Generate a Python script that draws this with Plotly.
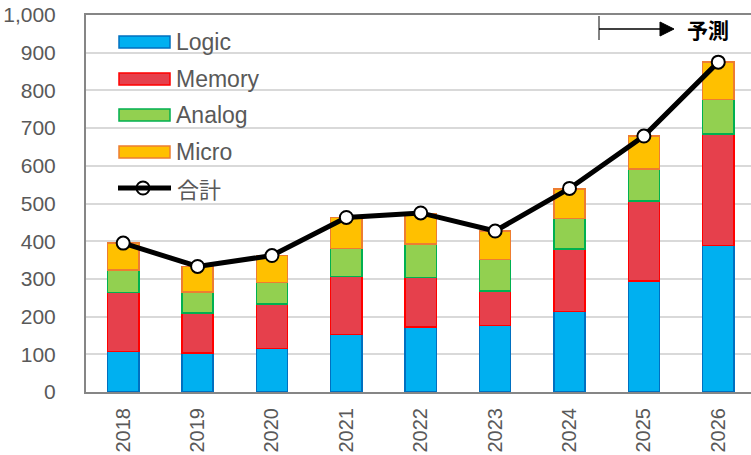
import plotly.graph_objects as go

years = ["2018", "2019", "2020", "2021", "2022", "2023", "2024", "2025", "2026"]
logic = [107, 103, 116, 153, 173, 177, 213, 294, 389]
memory = [157, 107, 117, 153, 131, 91, 166, 213, 296]
analog = [60, 55, 57, 74, 89, 84, 81, 85, 91]
micro = [71, 68, 72, 83, 81, 75, 78, 87, 99]
total = [395, 333, 362, 463, 475, 427, 540, 679, 875]

series_names = ["Logic", "Memory", "Analog", "Micro"]
fills = ["#00B0F0", "#E6404C", "#92D050", "#FFC000"]
edges = ["#0070C0", "#FF0000", "#00B050", "#ED7D31"]
y_ticks = [0, 100, 200, 300, 400, 500, 600, 700, 800, 900, 1000]
forecast_label = "予測"
total_label = "合計"

W, H = 751, 455
L, R, T, B = 86, 0, 15, 63
PW, PH = W - L - R, H - T - B

def px(x):
    return (x - L) / PW

def py(y):
    return (H - B - y) / PH

fig = go.Figure()
for name, vals, fc, ec in zip(series_names, [logic, memory, analog, micro], fills, edges):
    fig.add_trace(go.Bar(x=years, y=vals, name=name, marker=dict(color=fc, line=dict(color=ec, width=1.5)),
                         width=0.42, showlegend=False))
fig.add_trace(go.Scatter(x=years, y=total, name=total_label, mode="lines+markers",
                         line=dict(color="black", width=5),
                         marker=dict(size=13, color="white", line=dict(color="black", width=2)),
                         showlegend=False))

font = "Liberation Sans, Arial, sans-serif"
cjk = "Noto Sans CJK JP, sans-serif"
fig.update_layout(
    width=W, height=H, barmode="stack",
    margin=dict(l=L, r=R, t=T, b=B, autoexpand=False),
    plot_bgcolor="white", paper_bgcolor="white",
    font=dict(family=font, color="#595959"),
)
fig.update_xaxes(type="category", range=[-0.5, 8.44], showline=True, linecolor="#868686", linewidth=2,
                 mirror=True, tickangle=-90, tickfont=dict(size=20, color="#595959"),
                 ticks="", ticklabelstandoff=6, showgrid=False, automargin=False)
fig.update_yaxes(range=[0, 1000], tickvals=y_ticks, tickformat=",", showline=True, linecolor="#868686",
                 linewidth=2, gridcolor="#D9D9D9", gridwidth=2, tickfont=dict(size=21, color="#595959"),
                 ticks="", ticklabelstandoff=24, zeroline=False, automargin=False)

# custom legend
rows = [42, 79, 115, 152]
for name, fc, ec, yc in zip(series_names, fills, edges, rows):
    fig.add_shape(type="rect", xref="paper", yref="paper", x0=px(119), x1=px(170), y0=py(yc - 6), y1=py(yc + 6),
                  fillcolor=fc, line=dict(color=ec, width=1.5))
    fig.add_annotation(xref="paper", yref="paper", x=px(174), y=py(yc), text=name, showarrow=False,
                       xanchor="left", yanchor="middle", font=dict(size=23, color="#595959", family=font))
fig.add_shape(type="line", xref="paper", yref="paper", x0=px(118), x1=px(171), y0=py(188), y1=py(188),
              line=dict(color="black", width=5))
fig.add_trace(go.Scatter(x=[px(143)], y=[py(188)], xaxis="x2", yaxis="y2", mode="markers",
                         marker=dict(size=13, color="white", line=dict(color="black", width=2)),
                         showlegend=False, hoverinfo="skip"))
fig.update_layout(xaxis2=dict(overlaying="x", range=[0, 1], visible=False, anchor="y2"),
                  yaxis2=dict(overlaying="y", range=[0, 1], visible=False, anchor="x2"))
fig.add_annotation(xref="paper", yref="paper", x=px(175), y=py(188), text=total_label, showarrow=False,
                   xanchor="left", yanchor="middle", font=dict(size=22, color="#595959", family=cjk))

# forecast arrow
fig.add_shape(type="line", xref="paper", yref="paper", x0=px(599), x1=px(599), y0=py(16), y1=py(40),
              line=dict(color="#595959", width=1.5))
fig.add_shape(type="line", xref="paper", yref="paper", x0=px(599), x1=px(662), y0=py(29), y1=py(29),
              line=dict(color="black", width=1.5))
fig.add_shape(type="path", xref="paper", yref="paper",
              path=f"M {px(660)} {py(22)} L {px(674)} {py(29)} L {px(660)} {py(36)} Z",
              fillcolor="black", line=dict(color="black", width=1))
fig.add_annotation(xref="paper", yref="paper", x=px(685), y=py(29), text=forecast_label, showarrow=False,
                   xanchor="left", yanchor="middle", font=dict(size=21, color="black", family=cjk, weight="bold"))

fig.write_html("out.html", config={"displayModeBar": False},
               post_script="document.body.style.margin='0';document.body.style.padding='0';")
